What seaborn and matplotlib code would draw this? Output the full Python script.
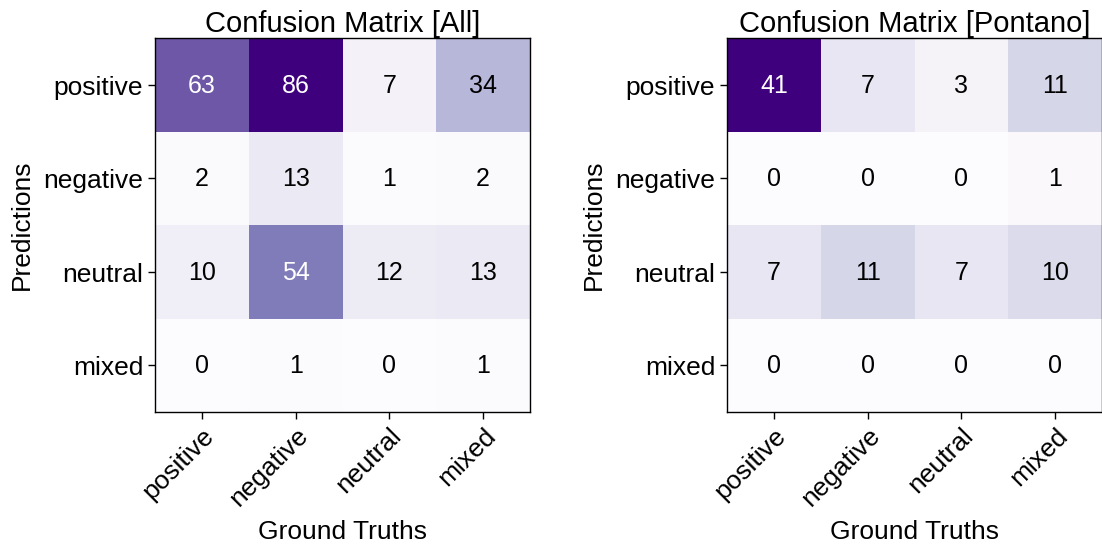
import matplotlib
matplotlib.use("Agg")
import matplotlib.pyplot as plt
import matplotlib.colors as mcolors
import matplotlib.transforms as mtrans
import seaborn as sns
import numpy as np
import pandas as pd

labels = ["positive", "negative", "neutral", "mixed"]
all_matrix = [
    [63, 86, 7, 34],
    [2, 13, 1, 2],
    [10, 54, 12, 13],
    [0, 1, 0, 1],
]
pontano_matrix = [
    [41, 7, 3, 11],
    [0, 0, 0, 1],
    [7, 11, 7, 10],
    [0, 0, 0, 0],
]
titles = ["Confusion Matrix [All]", "Confusion Matrix [Pontano]"]

sns.set_style("white")
plt.rcParams['font.family'] = ['Liberation Sans', 'DejaVu Sans']
plt.rcParams['text.color'] = 'black'
plt.rcParams['axes.labelcolor'] = 'black'
plt.rcParams['xtick.color'] = 'black'
plt.rcParams['ytick.color'] = 'black'

fig = plt.figure(figsize=(11.02, 5.46), dpi=100)
W, H = 1102, 546
axes = [
    fig.add_axes([155 / W, (H - 412) / H, 375 / W, 374 / H]),
    fig.add_axes([727 / W, (H - 412) / H, 375 / W, 374 / H]),
]

for ax, mat, title in zip(axes, [all_matrix, pontano_matrix], titles):
    df = pd.DataFrame(mat, index=labels, columns=labels)
    sns.heatmap(df, ax=ax, cmap="Purples", annot=True, fmt="d", cbar=False,
                vmin=0, vmax=np.max(mat), annot_kws={"fontsize": 18})
    for t in ax.texts:
        c = mcolors.to_rgb(t.get_color())
        if sum(c) < 2.9:
            t.set_color("black")
        t.set_transform(t.get_transform() + mtrans.ScaledTranslation(0, -1 / 100, fig.dpi_scale_trans))
    for s in ax.spines.values():
        s.set_visible(True)
        s.set_color("black")
        s.set_linewidth(1.0)
    ax.set_title(title, fontsize=21, pad=3, color="black")
    ax.set_xlabel("Ground Truths", fontsize=19, labelpad=6)
    ax.set_ylabel("Predictions", fontsize=19, labelpad=7)
    ax.tick_params(axis="both", which="both", length=5, width=1, labelsize=19,
                   left=True, bottom=True, color="black", labelcolor="black")
    ax.set_xticklabels(labels, rotation=45, ha="right", rotation_mode="anchor")
    ax.set_yticklabels(labels, rotation=0)
    for lab in ax.get_yticklabels():
        lab.set_transform(lab.get_transform() + mtrans.ScaledTranslation(0, -3 / 100, fig.dpi_scale_trans))

fig.savefig("out.png", dpi=100)
